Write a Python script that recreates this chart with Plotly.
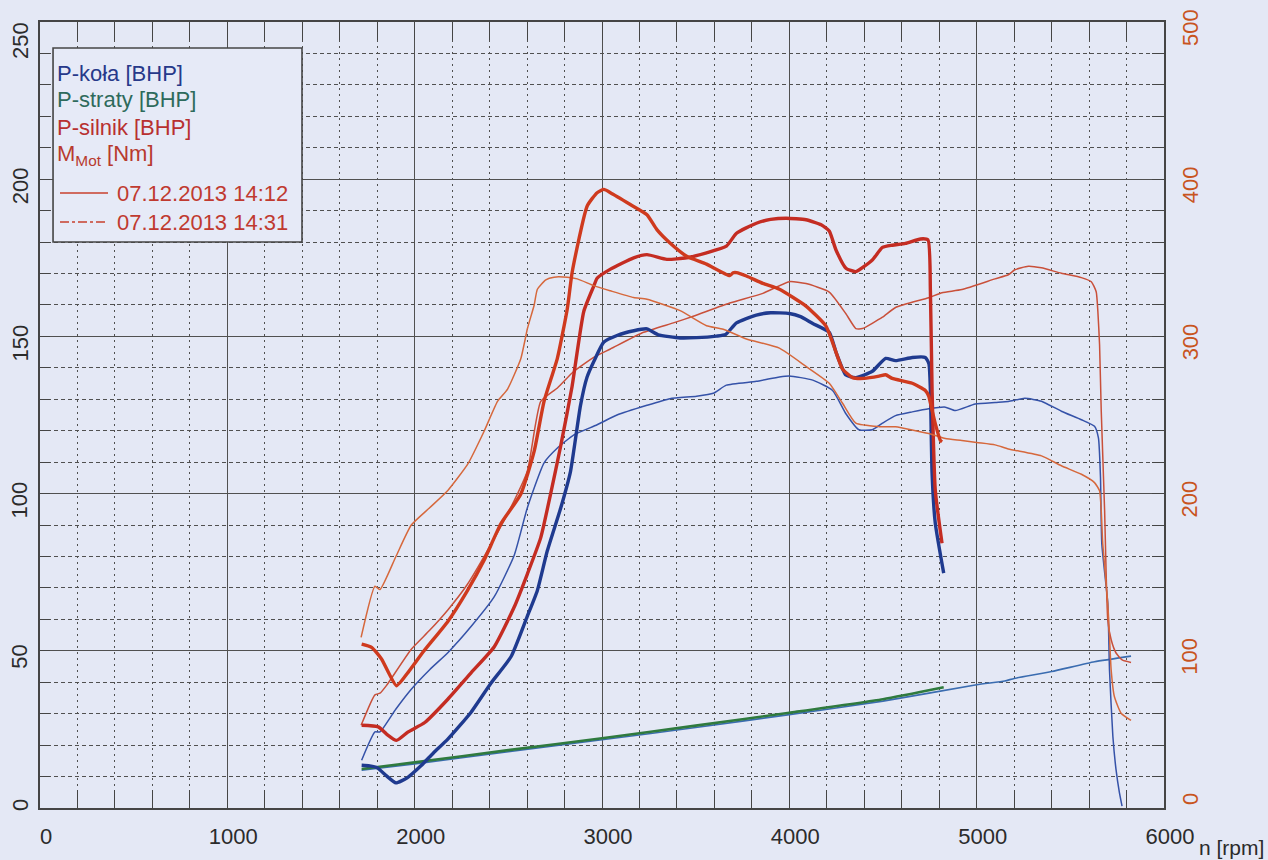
import plotly.graph_objects as go

# ---- run 07.12.2013 14:12 (thick lines) ----
rpm_kola_1 = [1717, 1760, 1800, 1850, 1900, 1960, 2035, 2100, 2177, 2300, 2407, 2514, 2600, 2655, 2708,
              2780, 2832, 2885, 2920, 2960, 3010, 3080, 3170, 3240, 3300, 3417, 3505, 3611, 3660, 3718,
              3824, 3900, 4000, 4060, 4125, 4213, 4249, 4302, 4355, 4443, 4514, 4567, 4656, 4726, 4745,
              4753, 4762, 4779, 4824]
p_kola_1 = [13.6, 13.4, 12.8, 10.2, 8.0, 9.6, 13.5, 17.5, 21.9, 30.4, 39.7, 48.1, 60.8, 69.2, 81.8,
            95.5, 107.1, 128.0, 137.0, 142.5, 148.2, 150.3, 151.8, 152.4, 150.5, 149.5, 149.6, 150.1, 150.6, 154.3,
            156.8, 157.5, 157.3, 156.3, 154.1, 151.3, 145.0, 137.7, 136.9, 138.9, 143.0, 142.3, 143.3, 143.3, 141.3,
            132.8, 106.4, 90.6, 74.7]

rpm_silnik_1 = [1717, 1806, 1850, 1903, 1965, 2054, 2177, 2301, 2425, 2532, 2602, 2673, 2726, 2779, 2840,
                2903, 2956, 2974, 3045, 3169, 3240, 3346, 3452, 3558, 3664, 3718, 3824, 3900, 3983, 4089,
                4170, 4213, 4249, 4302, 4355, 4443, 4497, 4550, 4620, 4700, 4740, 4753, 4762, 4779, 4815]
p_silnik_1 = [26.3, 25.8, 23.5, 21.5, 24.2, 27.2, 34.6, 43.0, 51.3, 64.0, 74.5, 86.0, 100.0, 115.0, 134.0,
              158.0, 166.0, 168.5, 171.4, 175.0, 176.0, 174.5, 175.0, 176.6, 178.7, 182.8, 186.0, 187.2, 187.6, 187.1,
              185.5, 183.5, 177.5, 171.7, 170.6, 174.3, 178.3, 179.0, 179.6, 181.0, 180.7, 164.4, 132.8, 101.1, 84.2]

rpm_mot_1 = [1717, 1770, 1823, 1903, 1965, 2050, 2177, 2280, 2372, 2460, 2567, 2638, 2691, 2762, 2815,
             2841, 2921, 2974, 3010, 3045, 3151, 3240, 3293, 3363, 3452, 3558, 3682, 3700, 3718, 3771,
             3859, 3947, 4089, 4195, 4231, 4284, 4337, 4400, 4479, 4514, 4549, 4656, 4726, 4744, 4762,
             4779, 4806, 4815]
m_mot_1 = [104.3, 102.2, 94.8, 77.8, 86.3, 100.0, 118.7, 138.0, 158.0, 180.8, 199.8, 227.0, 258.8, 286.2, 317.8,
           341.0, 383.0, 391.4, 393.5, 391.4, 383.9, 377.4, 367.9, 359.4, 351.0, 346.0, 338.7, 340.5, 340.6, 338.4,
           333.7, 330.0, 319.3, 306.7, 296.1, 279.2, 273.8, 273.3, 274.7, 275.6, 273.3, 270.2, 265.6, 262.0, 252.9,
           244.5, 233.9, 232.9]

rpm_straty_1 = [1717, 2000, 2500, 3000, 3500, 4000, 4500, 4824]
p_straty_1 = [12.4, 14.5, 18.4, 22.2, 26.2, 30.3, 34.6, 38.4]

# ---- run 07.12.2013 14:31 (thin lines) ----
rpm_kola_2 = [1717, 1788, 1815, 1900, 1982, 2080, 2177, 2301, 2425, 2532, 2602, 2691, 2762, 2850, 2974,
              3080, 3240, 3363, 3505, 3594, 3664, 3824, 3947, 4000, 4125, 4231, 4302, 4372, 4443, 4497,
              4567, 4656, 4744, 4833, 4886, 4992, 5098, 5169, 5257, 5346, 5452, 5559, 5629, 5650, 5661,
              5668, 5700, 5709, 5727, 5744, 5762, 5776]
p_kola_2 = [15.2, 24.2, 24.2, 31.5, 37.8, 44.0, 49.4, 57.7, 67.2, 80.5, 95.6, 109.8, 114.5, 118.7, 121.9,
            125.0, 128.1, 130.2, 131.0, 131.9, 134.5, 135.7, 137.1, 137.4, 136.1, 132.8, 125.4, 120.3, 120.3, 122.4,
            124.8, 126.0, 127.0, 127.5, 126.4, 128.5, 129.0, 129.3, 130.3, 129.4, 126.2, 123.5, 121.4, 117.7, 105.1,
            84.0, 65.0, 43.9, 22.8, 12.2, 4.9, 0.6]

rpm_silnik_2 = [1714, 1788, 1815, 1850, 1982, 2080, 2177, 2280, 2390, 2514, 2602, 2673, 2762, 2850, 2960,
                3045, 3222, 3381, 3487, 3682, 3859, 4000, 4089, 4213, 4302, 4355, 4390, 4497, 4567, 4744,
                4815, 4921, 5098, 5169, 5204, 5275, 5346, 5452, 5559, 5612, 5638, 5647, 5656, 5665, 5683,
                5691, 5700, 5718, 5744, 5779, 5824]
p_silnik_2 = [26.3, 36.0, 36.5, 39.0, 50.5, 56.5, 63.0, 71.0, 82.0, 95.7, 107.3, 129.3, 133.6, 138.9, 143.5,
              146.0, 151.3, 154.3, 156.4, 160.6, 163.7, 167.4, 166.8, 164.1, 157.2, 152.5, 152.5, 156.1, 159.2, 162.3,
              163.9, 164.9, 168.3, 169.6, 171.2, 172.3, 171.8, 170.1, 168.7, 167.4, 164.2, 157.9, 147.4, 126.3, 94.6,
              75.0, 59.8, 53.5, 49.3, 47.0, 46.3]

rpm_mot_2 = [1714, 1788, 1815, 1900, 1982, 2080, 2177, 2284, 2372, 2443, 2496, 2567, 2602, 2638, 2655,
             2700, 2744, 2815, 2868, 2956, 3045, 3169, 3240, 3417, 3558, 3647, 3771, 3947, 4089, 4213,
             4284, 4355, 4479, 4567, 4744, 4833, 4921, 5000, 5098, 5169, 5346, 5452, 5559, 5629, 5656,
             5665, 5673, 5700, 5709, 5718, 5735, 5771, 5824]
m_mot_2 = [108.5, 141.1, 139.0, 160.0, 180.0, 191.0, 202.0, 218.9, 240.0, 258.8, 266.5, 286.0, 305.0, 320.0, 330.0,
           336.0, 337.7, 337.6, 336.6, 332.3, 329.0, 324.7, 323.6, 316.4, 306.8, 304.6, 298.4, 292.5, 280.9, 270.2,
           257.5, 244.8, 242.6, 242.5, 238.2, 235.0, 233.8, 232.5, 231.0, 228.4, 224.0, 217.7, 212.3, 207.0, 201.8,
           189.0, 168.0, 130.0, 109.0, 87.7, 70.9, 60.3, 55.7]

rpm_straty_2 = [1717, 2000, 2500, 3000, 3500, 4000, 4500, 5000, 5150, 5200, 5400, 5629, 5824]
p_straty_2 = [12.0, 14.0, 17.9, 21.7, 25.6, 29.7, 34.0, 39.2, 40.4, 41.2, 43.4, 46.5, 48.3]

# ---- axis ticks ----
x_ticks = [0, 1000, 2000, 3000, 4000, 5000, 6000]
power_ticks = [0, 50, 100, 150, 200, 250]
torque_ticks = [0, 100, 200, 300, 400, 500]

legend_rows = ["P-koła [BHP]", "P-straty [BHP]", "P-silnik [BHP]", "M<sub>Mot</sub> [Nm]"]
run_labels = ["07.12.2013 14:12", "07.12.2013 14:31"]

FONT = "Liberation Sans, Arial, Helvetica, sans-serif"
BG = "#e4e8f5"
BLUE_THICK = "#1f3a8f"
BLUE_THIN = "#3552a8"
GREEN = "#2f7a3e"
TEAL = "#3a6cb0"
RED_POWER = "#c42c22"
RED_TORQUE = "#cf3a1e"
ORANGE_THIN_P = "#c9503a"
ORANGE_THIN_M = "#d6683c"
AXIS_TXT = "#2b2b2b"
TORQUE_TXT = "#c8541e"

fig = go.Figure()


def add(xs, ys, color, width, axis="y"):
    fig.add_trace(go.Scatter(x=xs, y=ys, mode="lines", yaxis=axis,
                             line=dict(color=color, width=width, shape="spline", smoothing=0.5),
                             hoverinfo="skip", showlegend=False))


# thin run first so the thick run sits on top
add(rpm_straty_2, p_straty_2, TEAL, 1.6)
add(rpm_kola_2, p_kola_2, BLUE_THIN, 1.5)
add(rpm_silnik_2, p_silnik_2, ORANGE_THIN_P, 1.5)
add(rpm_mot_2, m_mot_2, ORANGE_THIN_M, 1.5, "y2")

add(rpm_straty_1, p_straty_1, GREEN, 2.6)
add(rpm_kola_1, p_kola_1, BLUE_THICK, 3.4)
add(rpm_silnik_1, p_silnik_1, RED_POWER, 3.4)
add(rpm_mot_1, m_mot_1, RED_TORQUE, 3.4, "y2")

fig.update_layout(
    width=1268, height=860, autosize=False,
    margin=dict(l=40, r=104, t=22, b=52, pad=0, autoexpand=False),
    paper_bgcolor=BG, plot_bgcolor=BG,
    font=dict(family=FONT, size=22, color=AXIS_TXT),
    showlegend=False,
    xaxis=dict(
        range=[0, 6000], tickvals=x_ticks, ticktext=[str(v) for v in x_ticks], automargin=False,
        showgrid=True, gridcolor="#505050", gridwidth=1.3,
        showline=True, linecolor="#454545", linewidth=1.6, mirror="ticks",
        ticks="inside", ticklen=0, zeroline=False,
        tickfont=dict(size=22, color=AXIS_TXT), ticklabelstandoff=8, ticklabelshift=6,
        minor=dict(dtick=200, ticks="inside", ticklen=18, tickcolor="#454545", tickwidth=1.3,
                   showgrid=True, gridcolor="#505050", gridwidth=1, griddash="2px,4px"),
    ),
    yaxis=dict(
        range=[0, 250], tickvals=power_ticks, showticklabels=False, automargin=False,
        showgrid=True, gridcolor="#505050", gridwidth=1.3,
        showline=True, linecolor="#454545", linewidth=1.6, mirror=True,
        ticks="inside", ticklen=0, zeroline=False,
        minor=dict(dtick=10, ticks="inside", ticklen=10, tickcolor="#454545", tickwidth=1.3,
                   showgrid=True, gridcolor="#505050", gridwidth=1, griddash="4px,3px"),
    ),
    yaxis2=dict(
        range=[0, 500], tickvals=torque_ticks, showticklabels=False, overlaying="y", side="right",
        automargin=False,
        showgrid=False, showline=True, linecolor="#454545", linewidth=1.6,
        ticks="inside", ticklen=0, zeroline=False,
        minor=dict(dtick=20, ticks="inside", ticklen=12, tickcolor="#454545", tickwidth=1.3),
    ),
)

# rotated value labels for both vertical scales
left_shift = [3, -6, -6, -6, -6, -18]
right_shift = [9, -5, -5, -5, -5, -5]
for v, s in zip(power_ticks, left_shift):
    fig.add_annotation(text=str(v), xref="paper", yref="y", x=-0.0178, y=v, yshift=s,
                       textangle=-90, xanchor="center", yanchor="middle", showarrow=False,
                       font=dict(family=FONT, size=22, color=AXIS_TXT))
for v, s in zip(torque_ticks, right_shift):
    fig.add_annotation(text=str(v), xref="paper", yref="y2", x=1.0231, y=v, yshift=s,
                       textangle=-90, xanchor="center", yanchor="middle", showarrow=False,
                       font=dict(family=FONT, size=22, color=TORQUE_TXT))

# legend frame
fig.add_shape(type="rect", xref="paper", yref="paper", x0=0.0116, x1=0.2331, y0=0.7201, y1=0.9669,
              fillcolor="#e6eaf7", line=dict(color="#454545", width=1.6), layer="above")

legend_colors = ["#27398a", "#2e6a5c", "#b83030", "#b83a2e"]
legend_y = [0.9351, 0.9008, 0.8664, 0.8310]
for text, col, yy in zip(legend_rows, legend_colors, legend_y):
    fig.add_annotation(text=text, xref="paper", yref="paper", x=0.0134, y=yy,
                       xanchor="left", yanchor="middle", showarrow=False,
                       font=dict(family=FONT, size=22, color=col))

run_y = [0.7824, 0.7455]
for text, yy, dash in zip(run_labels, run_y, ["solid", "dashdot"]):
    fig.add_shape(type="line", xref="paper", yref="paper", x0=0.0178, x1=0.0605, y0=yy, y1=yy,
                  line=dict(color="#c8402e", width=1.6, dash=dash), layer="above")
    fig.add_annotation(text=text, xref="paper", yref="paper", x=0.0667, y=yy,
                       xanchor="left", yanchor="middle", showarrow=False,
                       font=dict(family=FONT, size=22, color="#c03a30"))

fig.add_annotation(text="n [rpm]", xref="paper", yref="paper", x=1.0907, y=-0.05,
                   xanchor="right", yanchor="middle", showarrow=False,
                   font=dict(family=FONT, size=21, color=AXIS_TXT))

fig.write_html("out.html")
